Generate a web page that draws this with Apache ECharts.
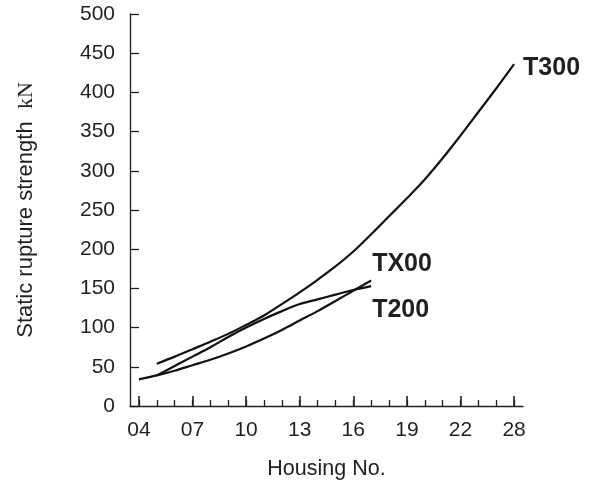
<!DOCTYPE html>
<html>
<head>
<meta charset="utf-8">
<script src="https://cdn.jsdelivr.net/npm/echarts@6/dist/echarts.min.js"></script>
<style>html,body{margin:0;padding:0;background:#fff}#c{width:594px;height:485px}</style>
</head>
<body>
<div id="c"></div>
<script>
// Housing numbers (category positions); only every third is labelled
const housing = ['04','05','06','07','08','09','10','11','12','13','14','15','16','17','18','19','20','21','22','24','26','28'];
const yTicks = [0, 500, 50]; // min, max, interval
// Static rupture strength, kN
const t300 = [null, 54, 63, 72.5, 82, 92, 103.5, 115.5, 130, 145, 161, 178, 197, 219, 242, 265, 289, 316, 345, 375, 405, 436];
const tx00 = [null, 39, 51, 63, 75, 88, 100, 111, 121, 130, 136, 142, 148, 153, null, null, null, null, null, null, null, null];
const t200 = [34, 39, 45, 52, 59, 67, 76, 86, 97, 109, 121, 134, 147, 160, null, null, null, null, null, null, null, null];

const ink = '#231f20';
const font = 'Liberation Sans, Arial, Helvetica, sans-serif';

function lineSeries(name, arr, offset) {
  return {
    name: name, type: 'line', xAxisIndex: 0, yAxisIndex: 0,
    data: arr,
    smooth: 0.35, showSymbol: false, symbol: 'none',
    lineStyle: { color: '#111', width: 2.2 },
    endLabel: { show: true, formatter: name, distance: 6, offset: offset,
                fontSize: 25, fontWeight: 'bold', color: ink, fontFamily: font },
    labelLayout: { hideOverlap: false },
    emphasis: { disabled: true }, silent: true
  };
}

const chart = echarts.init(document.getElementById('c'), null, { renderer: 'canvas' });
chart.setOption({
  animation: false,
  grid: { left: 130, right: 71, top: 14, bottom: 77, containLabel: false },
  xAxis: [{
    type: 'category', data: housing, boundaryGap: true,
    name: 'Housing No.', nameLocation: 'middle', nameGap: 52,
    nameTextStyle: { fontSize: 21.5, color: ink, fontFamily: font },
    axisLine: { show: true, lineStyle: { color: ink, width: 1.3 } },
    axisTick: { show: true, inside: true, length: 6, interval: 0, alignWithLabel: true, lineStyle: { color: ink, width: 1.3 } },
    axisLabel: { interval: 2, fontSize: 21, margin: 14, color: ink, fontFamily: font },
    splitLine: { show: false }
  }, {
    type: 'category', data: housing, boundaryGap: true, position: 'bottom',
    axisLine: { show: false },
    axisTick: { show: true, inside: true, length: 10, interval: 2, alignWithLabel: true, lineStyle: { color: ink, width: 1.6 } },
    axisLabel: { show: false },
    splitLine: { show: false }
  }],
  yAxis: {
    type: 'value', min: yTicks[0], max: yTicks[1], interval: yTicks[2],
    name: 'Static rupture strength  {u|kN}', nameLocation: 'middle', nameGap: 93,
    nameTextStyle: { fontSize: 22, color: ink, fontFamily: font,
      rich: { u: { fontSize: 22, color: ink, fontFamily: 'Liberation Serif, Times New Roman, serif' } } },
    axisLine: { show: true, lineStyle: { color: ink, width: 1.3 } },
    axisTick: { show: true, inside: true, length: 9, lineStyle: { color: ink, width: 1.3 } },
    axisLabel: { fontSize: 21, margin: 15, color: ink, fontFamily: font },
    splitLine: { show: false }
  },
  series: [
    lineSeries('T300', t300, [3, 4]),
    lineSeries('TX00', tx00, [-5, -22]),
    lineSeries('T200', t200, [-5, 30])
  ]
});
</script>
</body>
</html>
